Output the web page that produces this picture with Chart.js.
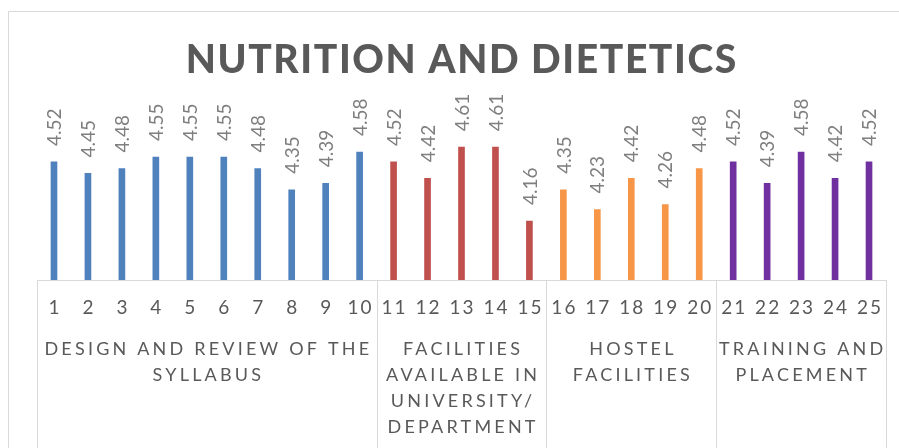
<!DOCTYPE html>
<html>
<head>
<meta charset="utf-8">
<title>Nutrition and Dietetics</title>
<script src="https://cdn.jsdelivr.net/npm/chart.js@4"></script>
<style>
  html, body { margin: 0; padding: 0; background: #fff; }
  #chart { display: block; }
</style>
</head>
<body>
<canvas id="chart" width="899" height="448"></canvas>
<script>
const chartTitle = 'NUTRITION AND DIETETICS';
const questions = ['1', '2', '3', '4', '5', '6', '7', '8', '9', '10', '11', '12', '13',
  '14', '15', '16', '17', '18', '19', '20', '21', '22', '23', '24', '25'];
const scores = [4.52, 4.45, 4.48, 4.55, 4.55, 4.55, 4.48, 4.35, 4.39, 4.58, 4.52, 4.42, 4.61,
  4.61, 4.16, 4.35, 4.23, 4.42, 4.26, 4.48, 4.52, 4.39, 4.58, 4.42, 4.52];
const groupNames = [
  ['DESIGN AND REVIEW OF THE', 'SYLLABUS'],
  ['FACILITIES', 'AVAILABLE IN', 'UNIVERSITY/', 'DEPARTMENT'],
  ['HOSTEL', 'FACILITIES'],
  ['TRAINING AND', 'PLACEMENT']
];
const groupSizes = [10, 5, 5, 5];
const groupColors = ['#4f81bd', '#c0504d', '#f79646', '#7030a0'];

const FONT = 'Lato, "Open Sans", sans-serif';
const gridColor = '#d9d9d9';

// one colour per bar, taken from the group it belongs to
const barColors = [];
groupSizes.forEach((n, g) => {
  for (let i = 0; i < n; i++) barColors.push(groupColors[g]);
});

const spacedText = (ctx, text, x, y, spacing) => {
  ctx.letterSpacing = spacing + 'px';
  ctx.fillText(text, x + spacing / 2, y);
  ctx.letterSpacing = '0px';
};

const decorations = {
  id: 'decorations',
  beforeDraw(chart) {
    const ctx = chart.ctx;
    ctx.save();
    ctx.strokeStyle = gridColor;
    ctx.lineWidth = 1;
    ctx.beginPath();
    ctx.moveTo(8.5, chart.height);
    ctx.lineTo(8.5, 11.5);
    ctx.lineTo(chart.width, 11.5);
    ctx.stroke();

    ctx.fillStyle = '#595959';
    ctx.font = '900 39px ' + FONT;
    ctx.textAlign = 'center';
    ctx.textBaseline = 'alphabetic';
    spacedText(ctx, chartTitle, 461, 73, 1.6);
    ctx.restore();
  },
  afterDatasetsDraw(chart) {
    const ctx = chart.ctx;
    const x = chart.scales.x;
    const area = chart.chartArea;
    const meta = chart.getDatasetMeta(0);
    ctx.save();

    // value labels, rotated, above each bar
    ctx.fillStyle = '#7f7f7f';
    ctx.font = '19px ' + FONT;
    ctx.textAlign = 'left';
    ctx.textBaseline = 'middle';
    meta.data.forEach((bar, i) => {
      ctx.save();
      ctx.translate(bar.x + 1, bar.y - 16);
      ctx.rotate(-Math.PI / 2);
      ctx.fillText(scores[i].toFixed(2), 0, 0);
      ctx.restore();
    });

    // axis line and group separators
    const half = (x.getPixelForValue(1) - x.getPixelForValue(0)) / 2;
    ctx.strokeStyle = gridColor;
    ctx.lineWidth = 1;
    ctx.beginPath();
    ctx.moveTo(area.left, Math.round(area.bottom) + 0.5);
    ctx.lineTo(area.right, Math.round(area.bottom) + 0.5);
    let start = 0;
    const edges = [0];
    groupSizes.forEach(n => { start += n; edges.push(start); });
    edges.forEach(e => {
      const px = Math.round(x.getPixelForValue(e) - half) + 0.5;
      ctx.moveTo(px, area.bottom);
      ctx.lineTo(px, chart.height);
    });
    ctx.stroke();

    // question numbers
    ctx.fillStyle = '#595959';
    ctx.font = '19px ' + FONT;
    ctx.textAlign = 'center';
    ctx.textBaseline = 'alphabetic';
    questions.forEach((q, i) => {
      spacedText(ctx, q, x.getPixelForValue(i), area.bottom + 34, 2);
    });

    // group names
    ctx.font = '18px ' + FONT;
    groupNames.forEach((lines, g) => {
      const cx = (x.getPixelForValue(edges[g]) + x.getPixelForValue(edges[g + 1] - 1)) / 2;
      lines.forEach((line, j) => {
        spacedText(ctx, line, cx, area.bottom + 75 + j * 26, 3.2);
      });
    });
    ctx.restore();
  }
};

new Chart(document.getElementById('chart'), {
  type: 'bar',
  data: {
    labels: questions,
    datasets: [{
      data: scores,
      backgroundColor: barColors,
      barThickness: 6
    }]
  },
  options: {
    responsive: false,
    animation: false,
    layout: {
      padding: { left: 37, right: 13, top: 99.6, bottom: 168 }
    },
    plugins: {
      legend: { display: false },
      tooltip: { enabled: false }
    },
    scales: {
      x: { display: false },
      y: { display: false, min: 3.8, max: 4.9 }
    }
  },
  plugins: [decorations]
});
</script>
</body>
</html>
